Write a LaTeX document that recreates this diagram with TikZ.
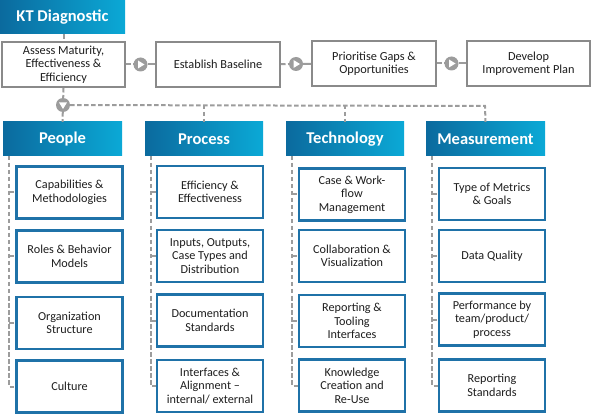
\documentclass[tikz,border=0pt]{standalone}
\usepackage{fontspec}
\setmainfont{Carlito}
\usetikzlibrary{positioning,calc}

\definecolor{ktdark}{HTML}{0B6A9E}
\definecolor{ktlight}{HTML}{0BA9D6}
\definecolor{boxblue}{HTML}{1F72A8}
\definecolor{boxgray}{HTML}{8A8A8A}
\definecolor{linegray}{HTML}{9C9C9C}
\definecolor{textgray}{HTML}{1E1E1E}

\tikzset{
  headbox/.style={minimum width=119pt, minimum height=34pt, inner sep=0pt,
    left color=ktdark, right color=ktlight, text=white,
    font=\fontsize{16.5}{19}\selectfont\bfseries},
  stagebox/.style={draw=boxgray, line width=2pt, fill=white, minimum width=123pt,
    minimum height=45pt, inner sep=1pt, align=center, text=textgray,
    font=\fontsize{12.3}{13.5}\selectfont},
  itembox/.style={draw=boxblue, line width=2.4pt, fill=white, minimum width=106pt,
    minimum height=52pt, inner sep=1pt, align=center, text=textgray,
    font=\fontsize{12.2}{13.4}\selectfont},
  link/.style={draw=linegray, line width=2pt, dash pattern=on 4.5pt off 2.5pt},
  solidlink/.style={draw=linegray, line width=2pt},
  stepdot/.style={circle, fill=linegray, minimum size=14pt, inner sep=0pt}
}

\begin{document}
\begin{tikzpicture}[x=1pt, y=-1pt]
  \useasboundingbox (0,0) rectangle (592,414);

  % Prozess
  \node [headbox, minimum width=125pt] (kt) at (62.5,17) {KT Diagnostic};
  \node [stagebox] (assess) at (63.5,64.5) {Assess Maturity,\\Effectiveness \&\\Efficiency};
  \node [stagebox, minimum width=124pt] (base) at (218,64.5) {Establish Baseline};
  \node [stagebox, minimum width=124pt] (gaps) at (374,63.5) {Prioritise Gaps \&\\Opportunities};
  \node [stagebox, minimum width=123pt] (plan) at (528.5,63.5) {Develop\\Improvement Plan};

  \node [stepdot] (s1) at (140.5,64.5) {};
  \node [stepdot] (s2) at (296,64) {};
  \node [stepdot] (s3) at (451.5,63.5) {};
  \node [stepdot] (sd) at (63,105) {};
  \fill [white] ($(s1)+(-2.5,-4)$) -- ($(s1)+(-2.5,4)$) -- ($(s1)+(4,0)$) -- cycle;
  \fill [white] ($(s2)+(-2.5,-4)$) -- ($(s2)+(-2.5,4)$) -- ($(s2)+(4,0)$) -- cycle;
  \fill [white] ($(s3)+(-2.5,-4)$) -- ($(s3)+(-2.5,4)$) -- ($(s3)+(4,0)$) -- cycle;
  \fill [white] ($(sd)+(-4,-2.5)$) -- ($(sd)+(4,-2.5)$) -- ($(sd)+(0,4)$) -- cycle;

  \draw [link] (kt.south -| assess) -- (assess.north);
  \draw [link] (assess) -- (s1);
  \draw [solidlink] (s1) -- (base);
  \draw [link] (base) -- (s2);
  \draw [solidlink] (s2) -- (gaps);
  \draw [link] (gaps) -- (s3);
  \draw [solidlink] (s3) -- (plan);
  \draw [link] (assess.south) -- (sd);

  % Bereiche
  \node [headbox] (people) at (62.5,139) {People};
  \node [headbox, minimum width=118pt] (process) at (204,139) {Process};
  \node [headbox, minimum width=118pt] (tech) at (345,139) {Technology};
  \node [headbox] (meas) at (485.5,139) {Measurement};

  \coordinate (bus) at (485,106);
  \draw [link] (sd) -- (bus) -- (meas.north);
  \draw [link] (sd) -- (people.north);
  \draw [link] (sd -| process) -- (process.north);
  \draw [link] (sd -| tech) -- (tech.north);

  % People
  \node [itembox] (p1) at (69.5,192.5) {Capabilities \&\\Methodologies};
  \node [itembox] (p2) at (69.5,256.5) {Roles \& Behavior\\Models};
  \node [itembox] (p3) at (69.5,323) {Organization\\Structure};
  \node [itembox] (p4) at (69.5,386.5) {Culture};

  % Process
  \node [itembox] (r1) at (210,192) {Efficiency \&\\Effectiveness};
  \node [itembox] (r2) at (210,256) {Inputs, Outputs,\\Case Types and\\Distribution};
  \node [itembox] (r3) at (210,320.5) {Documentation\\Standards};
  \node [itembox] (r4) at (210,386) {Interfaces \&\\Alignment --\\internal/ external};

  % Technology
  \node [itembox] (t1) at (352,194.5) {Case \& Work-\\flow\\Management};
  \node [itembox] (t2) at (352,256) {Collaboration \&\\Visualization};
  \node [itembox] (t3) at (352,321) {Reporting \&\\Tooling\\Interfaces};
  \node [itembox] (t4) at (352,385.5) {Knowledge\\Creation and\\Re-Use};

  % Measurement
  \node [itembox] (m1) at (492,194) {Type of Metrics\\\& Goals};
  \node [itembox] (m2) at (492,256) {Data Quality};
  \node [itembox] (m3) at (492,319.5) {Performance by\\team/product/\\process};
  \node [itembox] (m4) at (492,385.5) {Reporting\\Standards};

  % Seitenlinien
  \coordinate (pl) at (9,156);
  \coordinate (rl) at (151,156);
  \coordinate (tl) at (292,156);
  \coordinate (ml) at (432,156);
  \draw [link] (pl) -- (pl |- p4.west) -- (p4.west);
  \draw [link] (pl |- p1.west) -- (p1.west);
  \draw [link] (pl |- p2.west) -- (p2.west);
  \draw [link] (pl |- p3.west) -- (p3.west);
  \draw [link] (rl) -- (rl |- r4.west) -- (r4.west);
  \draw [link] (rl |- r1.west) -- (r1.west);
  \draw [link] (rl |- r2.west) -- (r2.west);
  \draw [link] (rl |- r3.west) -- (r3.west);
  \draw [link] (tl) -- (tl |- t4.west) -- (t4.west);
  \draw [link] (tl |- t1.west) -- (t1.west);
  \draw [link] (tl |- t2.west) -- (t2.west);
  \draw [link] (tl |- t3.west) -- (t3.west);
  \draw [link] (ml) -- (ml |- m4.west) -- (m4.west);
  \draw [link] (ml |- m1.west) -- (m1.west);
  \draw [link] (ml |- m2.west) -- (m2.west);
  \draw [link] (ml |- m3.west) -- (m3.west);
\end{tikzpicture}
\end{document}
